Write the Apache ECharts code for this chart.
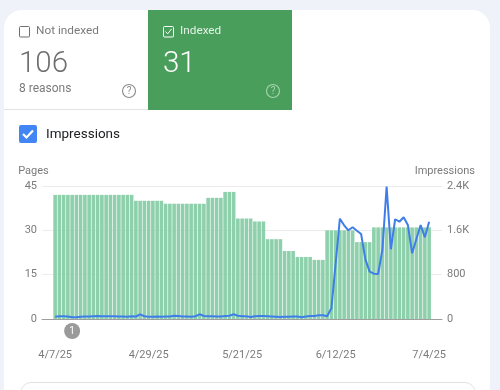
<!DOCTYPE html>
<html><head><meta charset="utf-8">
<style>html,body{margin:0;padding:0;background:#eff2f9}#c{width:500px;height:390px}</style>
<script src="https://cdn.jsdelivr.net/npm/echarts@6/dist/echarts.min.js"></script>
</head><body><div id="c"></div>
<script>
const dateLabels = ['4/7/25','4/29/25','5/21/25','6/12/25','7/4/25'];
const labelIndexes = [0,22,44,66,88];
const pageTicks = {45:'45',30:'30',15:'15',0:'0'};
const impressionTicks = {2400:'2.4K',1600:'1.6K',800:'800',0:'0'};
const pages = [
42,42,42,42,42,42,42,42,42,42,42,42,42,42,42,42,42,42,42,
40,40,40,40,40,40,40,
39,39,39,39,39,39,39,39,39,39,
41,41,41,41,
43,43,43,
34,34,34,34,
33,33,33,
27,27,27,27,
23,23,23,
21,21,21,21,
20,20,20,
30,30,30,30,30,30,30,
26,26,26,26,
31,31,31,31,31,31,31,31,31,31,31,31,31,31];
const impressions = [
40,50,50,45,30,30,40,45,45,50,55,50,50,50,50,45,45,40,50,45,
85,50,40,40,45,40,45,45,60,55,45,45,40,50,85,55,50,50,45,45,
55,60,85,60,50,50,35,50,55,55,50,45,40,35,40,40,45,45,30,45,
55,55,67,67,50,193,1000,1810,1691,1601,1655,1594,1534,1077,854,818,
812,1245,2388,1258,1800,1756,1835,1697,1186,1444,1697,1474,1756];
const grey='#7b7b7b';
const chart = echarts.init(document.getElementById('c'));
const idx = pages.map((v,i)=>[i,v]);
const line = impressions.map((v,i)=>[i,v]);
const txt=(x,y,t,size,fill,extra)=>({type:'text',x,y,silent:true,z:10,style:Object.assign({text:t,font:size+'px Roboto',fill,textVerticalAlign:'middle'},extra||{})});
const helpIcon=(x,y,c)=>[
 {type:'circle',shape:{cx:x,cy:y,r:6.5},style:{fill:'none',stroke:c,lineWidth:1.1},z:10},
 txt(x,y+.5,'?',10,c,{textAlign:'center'})];
chart.setOption({
 animation:false,
 backgroundColor:'transparent',
 textStyle:{fontFamily:'Roboto'},
 grid:{left:42,right:58,top:186,height:133,containLabel:false},
 xAxis:{type:'value',min:-3.09,max:91.03,splitLine:{show:false},
  axisLine:{show:true,onZero:false,lineStyle:{color:'#9e9e9e',width:1}},axisTick:{show:false},
  axisLabel:{customValues:labelIndexes,margin:31,color:grey,fontSize:11,fontFamily:'Roboto',hideOverlap:false,
   formatter:v=>dateLabels[labelIndexes.indexOf(v)]||''}},
 yAxis:[
  {type:'value',min:0,max:45,interval:15,name:'Pages',nameLocation:'end',nameGap:9,
   nameTextStyle:{color:grey,fontSize:11,align:'left',padding:[0,0,0,-37]},
   axisLine:{show:false},axisTick:{show:false},splitLine:{lineStyle:{color:'#ececec',width:1}},
   axisLabel:{color:grey,fontSize:11,margin:5,formatter:v=>pageTicks[v]}},
  {type:'value',position:'right',min:0,max:2400,interval:800,name:'Impressions',nameLocation:'end',nameGap:9,
   nameTextStyle:{color:grey,fontSize:11,align:'right',padding:[0,-33,0,0]},
   axisLine:{show:false},axisTick:{show:false},splitLine:{show:false},
   axisLabel:{color:grey,fontSize:11,margin:5,formatter:v=>impressionTicks[v]}}
 ],
 series:[
  {type:'bar',yAxisIndex:0,data:idx,barWidth:3.6,itemStyle:{color:'#8dd0ab'},
   markPoint:{silent:true,symbol:'circle',symbolSize:16,symbolOffset:[0,12],
    itemStyle:{color:'#9a9a9a'},label:{show:true,color:'#fff',fontSize:10,formatter:'1',position:'inside'},
    data:[{coord:[4,0]}]}},
  {type:'line',yAxisIndex:1,data:line,symbol:'none',showSymbol:false,lineStyle:{color:'#3f7ee8',width:2},z:5}
 ],
 graphic:{elements:[
  {type:'rect',z:-10,shape:{x:4,y:10,width:486,height:400,r:[18,18,0,0]},style:{fill:'#fff'}},
  {type:'rect',z:-5,shape:{x:148,y:10,width:144,height:100},style:{fill:'#4a9e5c'}},
  {type:'line',z:-5,shape:{x1:4,y1:109.5,x2:148,y2:109.5},style:{stroke:'#e3e3e3',lineWidth:1}},
  {type:'rect',z:10,shape:{x:19.5,y:26.5,width:10,height:10.5,r:1},style:{fill:'none',stroke:'#6f6f6f',lineWidth:1}},
  txt(36,31,'Not indexed',11.8,grey,{}),
  txt(19,64.5,'106',30,'#6f6f6f',{font:'300 29.5px Roboto'}),
  txt(19,89,'8 reasons',12,grey,{}),
  ...helpIcon(129,91,'#8a8a8a'),
  {type:'rect',z:10,shape:{x:163.5,y:26.5,width:10,height:10.5,r:1},style:{fill:'none',stroke:'#fff',lineWidth:1}},
  {type:'polyline',z:10,shape:{points:[[165.5,31.5],[167.7,33.8],[171.6,28.8]]},style:{fill:'none',stroke:'#fff',lineWidth:1}},
  txt(180,31,'Indexed',11.8,'#e4f3e8',{}),
  txt(163,64.5,'31',30,'#fff',{font:'300 29.5px Roboto'}),
  ...helpIcon(273,91,'#a5d6b0'),
  {type:'rect',z:10,shape:{x:19,y:125,width:18,height:18,r:2},style:{fill:'#4285f4'}},
  {type:'polyline',z:10,shape:{points:[[23,134],[26.5,137.5],[33,130.5]]},style:{fill:'none',stroke:'#fff',lineWidth:2.2}},
  txt(46,134.5,'Impressions',13.5,'#202124',{}),
  {type:'rect',z:-5,shape:{x:21,y:382.5,width:454,height:30,r:10},style:{fill:'#fff',stroke:'#e2e2e2',lineWidth:1}}
 ]}
});
</script></body></html>
